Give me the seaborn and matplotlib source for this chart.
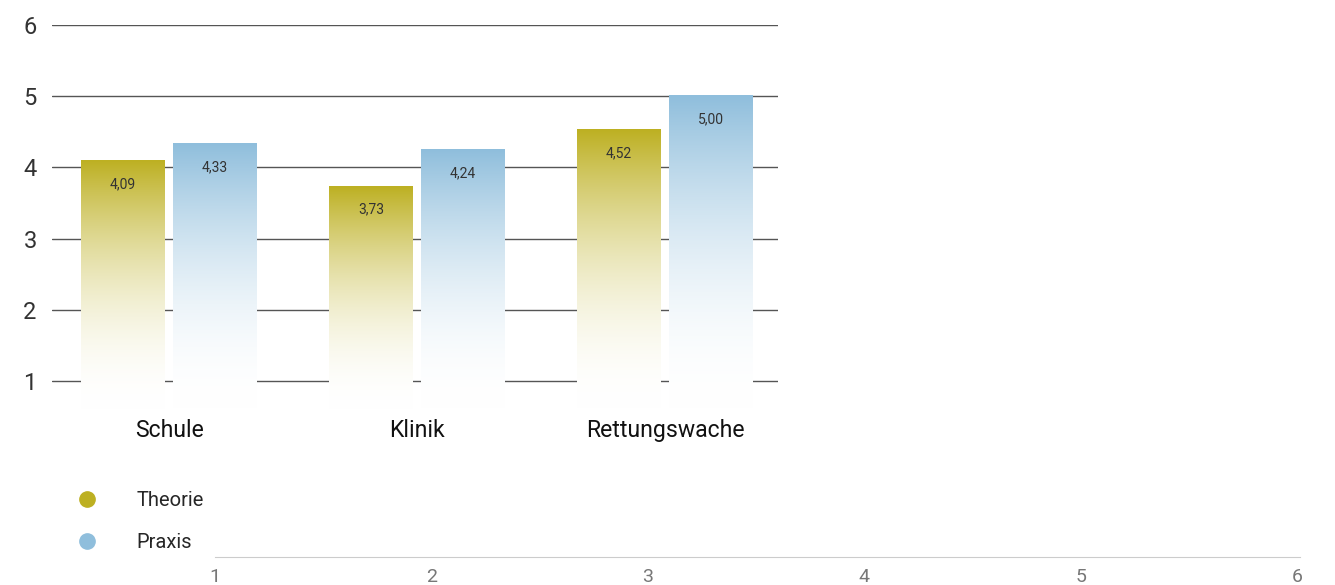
import numpy as np
import pandas as pd
import seaborn as sns
from matplotlib import pyplot as plt
from matplotlib.colors import to_rgb
from matplotlib.lines import Line2D

categories = ["Schule", "Klinik", "Rettungswache"]
series = ["Theorie", "Praxis"]
theorie = [4.09, 3.73, 4.52]
praxis = [4.33, 4.24, 5.00]
colors = {"Theorie": "#BDB022", "Praxis": "#8FBEDC"}
y_ticks = [1, 2, 3, 4, 5, 6]
bottom_ticks = [1, 2, 3, 4, 5, 6]

df = pd.DataFrame({
    "Kategorie": categories * 2,
    "Gruppe": ["Theorie"] * 3 + ["Praxis"] * 3,
    "Wert": theorie + praxis,
})

sns.set_style("white")
plt.rcParams["font.family"] = ["Roboto", "DejaVu Sans"]

fig = plt.figure(figsize=(13.35, 5.85), dpi=100)
ax = fig.add_axes([52 / 1335, (585 - 409.5) / 585, 726 / 1335, 384.5 / 585])

sns.barplot(data=df, x="Kategorie", y="Wert", hue="Gruppe", hue_order=series,
            palette=colors, width=0.74, gap=0.085, legend=False, ax=ax)

ymin, ymax = 0.6, 6.0
xlim = (-0.472, 2.456)


def gradient_img(color, n=256):
    c = np.array(to_rgb(color))
    t = np.linspace(0, 1, n)[:, None]
    f = 1 - (1 - t) ** 1.9
    return (c * (1 - f) + np.ones(3) * f)[:, None, :]


# replace flat bars with vertical gradients (top colour -> white)
bars = list(ax.patches)
for i, p in enumerate(bars):
    grp = series[i // len(categories)]
    x0 = p.get_x()
    w = p.get_width()
    h = p.get_height()
    p.set_visible(False)
    ax.imshow(gradient_img(colors[grp]), extent=(x0, x0 + w, ymin, h),
              aspect="auto", origin="upper", zorder=2, interpolation="bilinear")
    val = f"{h:.2f}".replace(".", ",")
    ax.annotate(val, (x0 + w / 2, h), xytext=(0, -16.5), textcoords="offset points",
                ha="center", va="center", fontsize=10, color="#333333", zorder=3)

ax.set_xlim(*xlim)
ax.set_ylim(ymin, ymax)
ax.set_yticks(y_ticks)
ax.yaxis.grid(True, color="#555555", linewidth=1)
ax.set_axisbelow(True)
sns.despine(ax=ax, left=True, bottom=True)
ax.tick_params(axis="y", length=0, pad=11, labelsize=17, labelcolor="#333333")
ax.tick_params(axis="x", length=0, pad=7, labelsize=16.6, labelcolor="#111111")
ax.set_xlabel("")
ax.set_ylabel("")

# legend with round markers
handles = [Line2D([0], [0], marker="o", linestyle="", markersize=11,
                  markerfacecolor=colors[s], markeredgecolor=colors[s]) for s in series]
fig.legend(handles, series, loc="upper left", bbox_to_anchor=(0.058, 0.160),
           frameon=False, fontsize=14.5, handlelength=1.0, handletextpad=1.95,
           labelspacing=1.12, borderpad=0, borderaxespad=0)

# empty bottom axis
ax2 = fig.add_axes([215 / 1335, 28 / 585, 1085 / 1335, 0.001])
ax2.set_xlim(1, 6.014)
ax2.set_xticks(bottom_ticks)
ax2.set_yticks([])
sns.despine(ax=ax2, left=True, top=True, right=True)
ax2.spines["bottom"].set_color("#cccccc")
ax2.tick_params(axis="x", length=0, pad=8, labelsize=14, labelcolor="#777777")
ax2.patch.set_alpha(0)

fig.savefig("out.png", dpi=100)
